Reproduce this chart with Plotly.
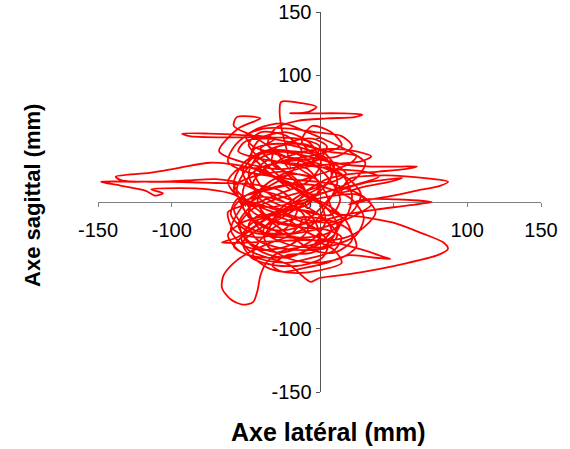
import plotly.graph_objects as go

# Centre-of-pressure trajectory (mm)
lateral_mm = [
    -20, -35, -46, -40, -22, -6, 1, -8, -28, -47,
    -55, -46, -26, -6, 4, 0, -14, -32, -50, -62,
    -57, -42, -25, -10, 6, 20, 31, 25, 10, -6,
    -30, -50, -74, -95, -115, -138, -134, -115, -90, -70,
    -52, -40, -50, -62, -58, -40, -22, -15, -25, -45,
    -70, -100, -125, -148, -135, -118, -111, -106, -114, -95,
    -75, -58, -42, -30, -18, -5, 10, 22, 18, 5,
    -10, -28, -40, -30, -55, -75, -93, -88, -65, -40,
    -15, 0, -5, -25, -48, -68, -55, -40, -56, -58,
    -45, -30, -20, -26, -27, -26, -12, -2, -8, -20,
    -5, 15, 29, 24, 5, -15, -30, -35, -20, 0,
    15, 8, -5, -12, -2, 15, 35, 55, 66, 58,
    40, 20, 5, -10, -25, -38, -50, -58, -48, -30,
    -12, 0, -5, -20, -38, -52, -48, -32, -15, -2,
    12, 30, 48, 56, 48, 30, 15, 20, 45, 70,
    87, 82, 66, 50, 35, 20, 30, 52, 76, 58,
    38, 18, 0, -18, -35, -42, -35, -18, -2, 5,
    10, 30, 52, 70, 84, 87, 80, 60, 40, 20,
    0, -6, -12, -20, -35, -48, -53, -45, -28, -12,
    -20, -35, -48, -58, -65, -66, -60, -52, -45, -42,
    -40, -36, -28, -15, 0, 8, 0, -15, -32, -45,
    -56, -66, -50, -30, -10, 10, 30, 45, 48, 38,
    20, 5, -10, -25, -32, -22, -5, 8, 12, 5,
    -10, -25, -38, -48, -40, -22, -12, -18, -35, -50,
    -58, -52, -38, -20, -5, 5, 12, 8, -5, -22,
    -38, -50, -56, -50, -35, -15, 5, 18, 22, 15,
    0, -18, -35, -45, -40, -25, -8, 0, -8, -28,
    -10, 10, 25, 35, 28, 10, -8, -25, -40, -48,
    -40, -25, -8, 10, 25, 30, 22, 8, -10, -30,
    -45, -55, -60, -52, -38, -20, -8, -12, -28, -42,
    -48, -42, -28, -12, 2, 10, 5, -10, -26, -38,
    -35, -20, -2, 15, 25, 20, 5, -12, -28, -40,
    -45, -35, -18, 0, 15, 10, -5, -22, -36, -30,
    -18, -10, -20, -32, -30, -18, -5, 5, 0, -15,
    -5, -25, -45, -58, -52, -35, -15, 5, 25, 40,
    30, 10, -15, -40, -55, -50, -35, -15, 5, 25,
    20, 0, -20, -40, -56, -60, -50, -32, -12, 8,
    25, 35, 25, 5, -15, -35, -52, -62, -55, -40,
    -22, -5, 10, 15, 5, -12, -30, -45, -52, -48,
    -38, -22, -5, 12, 22, 15, -2, -20, -38, -50,
    -45, -30, -12, 5, 20, 28, 22, 8, -10, -25,
    -40, -55, -62, -55, -40, -25, -10, 5, 15, 10,
    -5, -22, -38, -50, -54, -46, -30, -12, 5, 18,
    10, -8, -28, -44, -52, -46, -30, -12, 2, 12,
    5, -12, -28, -42, -48, -40, -22, -8, 4, 18,
    30, 38, 30, 15, -2, -20, -36, -48, -44, -28,
    -10, 5, 8, 0, -14, -28, -42, -52, -46, -30,
    -12, 2, 6, -4, -20, -36, -50, -58, -52, -38,
    -20, -4, 8, 14, 8, -8, -24, -38, -44, -34,
]
sagittal_mm = [
    10, 24, 38, 50, 55, 46, 30, 16, 6, -4,
    -18, -33, -40, -31, -16, 0, 12, 20, 24, 32,
    45, 58, 62, 56, 48, 40, 31, 19, 10, 6,
    20, 28, 31, 27, 23, 20, 17, 16, 17, 18,
    14, 6, -2, -8, -22, -28, -20, -5, 8, 14,
    15, 16, 16, 16, 13, 9, 5, 7, 10, 11,
    10, 6, -6, -18, -28, -38, -40, -30, -15, -5,
    10, 28, 42, 50, 53, 54, 54, 52, 51, 51,
    50, 44, 32, 26, 30, 40, 58, 66, 67, 60,
    52, 40, 26, 60, 72, 79, 78, 75, 71, 70,
    70, 70, 69, 67, 66, 64, 58, 45, 35, 38,
    45, 55, 60, 48, 36, 30, 28, 28, 28, 26,
    24, 22, 18, 8, -4, -15, -25, -35, -42, -44,
    -40, -28, -12, -2, 4, 0, -12, -22, -20, -8,
    8, 15, 18, 19, 16, 12, 8, 18, 21, 19,
    16, 13, 9, 5, 2, -2, 2, 2, 0, -3,
    -6, -10, -15, -18, -12, 0, 15, 22, 18, 5,
    -8, -12, -17, -25, -32, -37, -42, -48, -53, -57,
    -60, -63, -58, -50, -44, -38, -28, -16, -10, -14,
    -26, -33, -40, -48, -58, -68, -77, -81, -79, -70,
    -58, -48, -40, -36, -32, -22, -10, -6, -10, -20,
    -28, -32, -32, -31, -30, -32, -38, -44, -45, -44,
    -42, -48, -52, -55, -50, -42, -40, -30, -18, -5,
    5, 18, 32, 45, 55, 52, 40, 25, 12, 5,
    -5, -18, -24, -25, -18, -2, 15, 30, 38, 40,
    36, 25, 10, -8, -20, -28, -25, -12, 5, 22,
    30, 34, 28, 15, 2, -6, -2, 12, 26, 32,
    40, 42, 40, 36, 32, 30, 28, 22, 10, -6,
    -22, -32, -36, -34, -26, -12, 2, 10, 14, 12,
    5, -8, -22, -34, -38, -34, -22, -8, -2, 8,
    22, 36, 44, 46, 40, 28, 15, 5, -8, -22,
    -35, -45, -48, -44, -35, -22, -14, -12, -18, -30,
    -42, -52, -56, -54, -48, -38, -30, -28, -26, -14,
    -4, 10, 22, 30, 42, 48, 50, 44, 34, 28,
    20, 24, 20, 12, 0, -4, 0, 8, 14, 20,
    24, 26, 30, 34, 40, 48, 50, 46, 40, 36,
    30, 22, 14, 8, 2, -10, -22, -26, -24, -18,
    -10, -2, 6, 4, -2, -10, -16, -26, -38, -45,
    -48, -44, -38, -28, -22, -20, -16, -8, 6, 20,
    28, 32, 34, 36, 44, 52, 55, 58, 58, 52,
    44, 38, 32, 26, 18, 6, -8, -16, -14, -8,
    -2, 4, 16, 26, 26, 16, 6, -2, -12, -26,
    -36, -44, -40, -30, -18, -6, 2, 8, 14, 22,
    30, 36, 40, 36, 24, 12, 6, -2, -12, -26,
    -36, -38, -36, -30, -18, -10, -14, -24, -30, -28,
    -20, -8, 4, 12, 16, 18, 22, 30, 42, 46,
    42, 34, 20, 8, -4, -14, -22, -32, -44, -50,
    -50, -44, -32, -20, -12, -6, 2, 14, 30, 40,
    40, 30, 16, 2, -10, -8, 0, 10, 24, 34,
]

tick_vals = [-150, -100, -50, 0, 50, 100, 150]
x_tick_text = ["-150", "-100", "", "", "", "100", "150"]
y_tick_text = ["-150", "-100", "", "<span style='font-size:13px'>0</span>", "", "100", "150"]

x_title = "Axe latéral (mm)"
y_title = "Axe sagittal (mm)"

FONT = "Liberation Sans, Arial, sans-serif"

fig = go.Figure()
fig.add_trace(go.Scatter(
    x=lateral_mm, y=sagittal_mm, mode="lines",
    line=dict(color="#ff0000", width=1.8, shape="spline", smoothing=0.8),
    showlegend=False, hoverinfo="skip",
))

fig.update_layout(
    width=570, height=449,
    margin=dict(l=98, r=29, t=12, b=57, autoexpand=False),
    paper_bgcolor="white", plot_bgcolor="white",
    font=dict(family=FONT, size=20, color="black"),
    xaxis=dict(
        range=[-150, 150], anchor="free", position=0.5, automargin=False,
        showgrid=False, zeroline=False,
        showline=True, linecolor="#808080", linewidth=1,
        ticks="outside", ticklen=4, tickcolor="#808080",
        tickvals=tick_vals, ticktext=x_tick_text,
        tickfont=dict(family=FONT, size=20, color="black"),
        ticklabelstandoff=6,
        layer="below traces",
    ),
    yaxis=dict(
        range=[-150, 150], anchor="free", position=0.5, automargin=False,
        showgrid=False, zeroline=False,
        showline=True, linecolor="#555555", linewidth=1,
        ticks="outside", ticklen=4, tickcolor="#555555",
        tickvals=tick_vals, ticktext=y_tick_text,
        tickfont=dict(family=FONT, size=20, color="black"),
        layer="below traces",
    ),
    annotations=[
        dict(text="<b>%s</b>" % x_title, xref="paper", yref="paper",
             x=0.521, y=-0.105, xanchor="center", yanchor="middle",
             showarrow=False, font=dict(family=FONT, size=25, color="black")),
        dict(text="<b>%s</b>" % y_title, xref="paper", yref="paper",
             x=-0.1466, y=0.516, xanchor="center", yanchor="middle",
             textangle=-90, showarrow=False,
             font=dict(family=FONT, size=22, color="black")),
    ],
)

fig.write_html("out.html")
